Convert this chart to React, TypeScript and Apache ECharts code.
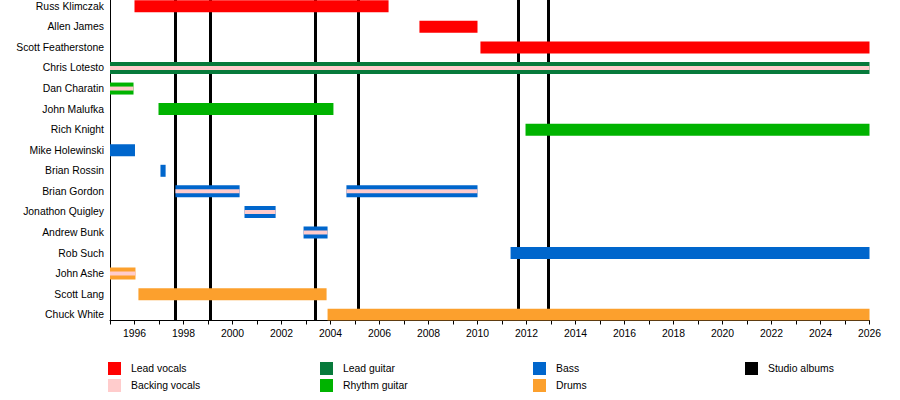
import React, { useEffect, useRef } from "react";
import * as echarts from "echarts";

const members = [
  "Russ Klimczak",
  "Allen James",
  "Scott Featherstone",
  "Chris Lotesto",
  "Dan Charatin",
  "John Malufka",
  "Rich Knight",
  "Mike Holewinski",
  "Brian Rossin",
  "Brian Gordon",
  "Jonathon Quigley",
  "Andrew Bunk",
  "Rob Such",
  "John Ashe",
  "Scott Lang",
  "Chuck White",
];

type Stint = [number, number, string];

const leadVocals: Stint[] = [
  [1996.0, 2006.37, "Russ Klimczak"],
  [2007.63, 2010.0, "Allen James"],
  [2010.12, 2026.0, "Scott Featherstone"],
];
const leadGuitar: Stint[] = [[1995.0, 2026.0, "Chris Lotesto"]];
const rhythmGuitar: Stint[] = [
  [1995.0, 1995.96, "Dan Charatin"],
  [1996.98, 2004.12, "John Malufka"],
  [2011.96, 2026.0, "Rich Knight"],
];
const bass: Stint[] = [
  [1995.0, 1996.02, "Mike Holewinski"],
  [1997.06, 1997.27, "Brian Rossin"],
  [1997.67, 2000.29, "Brian Gordon"],
  [2004.65, 2010.0, "Brian Gordon"],
  [2000.49, 2001.76, "Jonathon Quigley"],
  [2002.9, 2003.88, "Andrew Bunk"],
  [2011.35, 2026.0, "Rob Such"],
];
const drums: Stint[] = [
  [1995.0, 1996.04, "John Ashe"],
  [1996.16, 2003.84, "Scott Lang"],
  [2003.88, 2026.0, "Chuck White"],
];
const backingVocals: Stint[] = [
  [1995.0, 2026.0, "Chris Lotesto"],
  [1995.0, 1995.96, "Dan Charatin"],
  [1997.67, 2000.29, "Brian Gordon"],
  [2004.65, 2010.0, "Brian Gordon"],
  [2000.49, 2001.76, "Jonathon Quigley"],
  [2002.9, 2003.88, "Andrew Bunk"],
  [1995.0, 1996.04, "John Ashe"],
];
const studioAlbums = [1997.67, 1999.1, 2003.39, 2005.12, 2011.68, 2012.9];

const legendColumns = [
  ["Lead vocals", "Backing vocals"],
  ["Lead guitar", "Rhythm guitar"],
  ["Bass", "Drums"],
  ["Studio albums"],
];

const xMin = 1995;
const xMax = 2026;
const yMin = -0.306;
const yMax = 15.28;

const FONT = "'Liberation Sans', Arial, Helvetica, sans-serif";

function barSeries(name: string, color: string, stints: Stint[], h: number, z: number) {
  return {
    type: "custom",
    name,
    z,
    itemStyle: { color },
    clip: true,
    encode: { x: [0, 1], y: 2 },
    data: stints.map(([a, b, m]) => [a, b, members.indexOf(m)]),
    renderItem: (params: any, api: any) => {
      const s = api.coord([api.value(0), api.value(2)]);
      const e = api.coord([api.value(1), api.value(2)]);
      return {
        type: "rect",
        shape: { x: s[0], y: s[1] - h / 2, width: e[0] - s[0], height: h },
        style: { fill: color },
      };
    },
  };
}

export default function App() {
  const ref = useRef<HTMLDivElement>(null);
  useEffect(() => {
    document.body.style.margin = "0";
    const chart = echarts.init(ref.current!, undefined, { renderer: "svg" });
    const legendLefts = [108, 320, 533, 745];
    chart.setOption({
      animation: false,
      textStyle: { fontFamily: FONT },
      grid: { show: false, left: 110, top: 0, width: 759.5, height: 320.5 },
      xAxis: {
        type: "value",
        min: xMin,
        max: xMax,
        interval: 1,
        splitLine: { show: false },
        axisLine: { show: true, onZero: false, lineStyle: { color: "#000", width: 1 } },
        axisTick: { show: true, length: 4, lineStyle: { color: "#000" } },
        axisLabel: {
          fontSize: 10.4,
          color: "#000",
          margin: 8,
          fontFamily: FONT,
          formatter: (v: number) => (Math.round(v) % 2 === 0 ? String(Math.round(v)) : ""),
        },
      },
      yAxis: {
        type: "value",
        inverse: true,
        min: yMin,
        max: yMax,
        splitLine: { show: false },
        axisLine: { show: true, onZero: false, lineStyle: { color: "#000", width: 1 } },
        axisTick: { show: false },
        axisLabel: {
          customValues: members.map((_, i) => i),
          formatter: (v: number) => members[Math.round(v)] ?? "",
          fontSize: 10.4,
          color: "#000",
          margin: 6,
          fontFamily: FONT,
        },
      },
      legend: legendColumns.map((col, i) => ({
        data: col,
        left: legendLefts[i],
        top: 362,
        orient: "vertical",
        icon: "rect",
        itemWidth: 13,
        itemHeight: 13,
        itemGap: 4,
        padding: 0,
        selectedMode: false,
        textStyle: { fontSize: 10.4, color: "#000", fontFamily: FONT, padding: [0, 0, 0, 5] },
      })),
      series: [
        {
          type: "line",
          name: "Studio albums",
          z: 1,
          data: [],
          itemStyle: { color: "#000" },
          lineStyle: { color: "#000" },
          markLine: {
            z: 1,
            silent: true,
            symbol: "none",
            label: { show: false },
            lineStyle: { color: "#000", width: 3, type: "solid" },
            data: studioAlbums.map((v) => ({ xAxis: v })),
          },
        },
        barSeries("Lead vocals", "#ff0000", leadVocals, 12, 3),
        barSeries("Lead guitar", "#077a3b", leadGuitar, 12, 3),
        barSeries("Rhythm guitar", "#00b300", rhythmGuitar, 12, 3),
        barSeries("Bass", "#0066cc", bass, 12, 3),
        barSeries("Drums", "#fca02d", drums, 12, 3),
        barSeries("Backing vocals", "#ffcccc", backingVocals, 4, 4),
      ],
    });
    return () => chart.dispose();
  }, []);
  return <div ref={ref} style={{ width: 900, height: 400 }} />;
}
